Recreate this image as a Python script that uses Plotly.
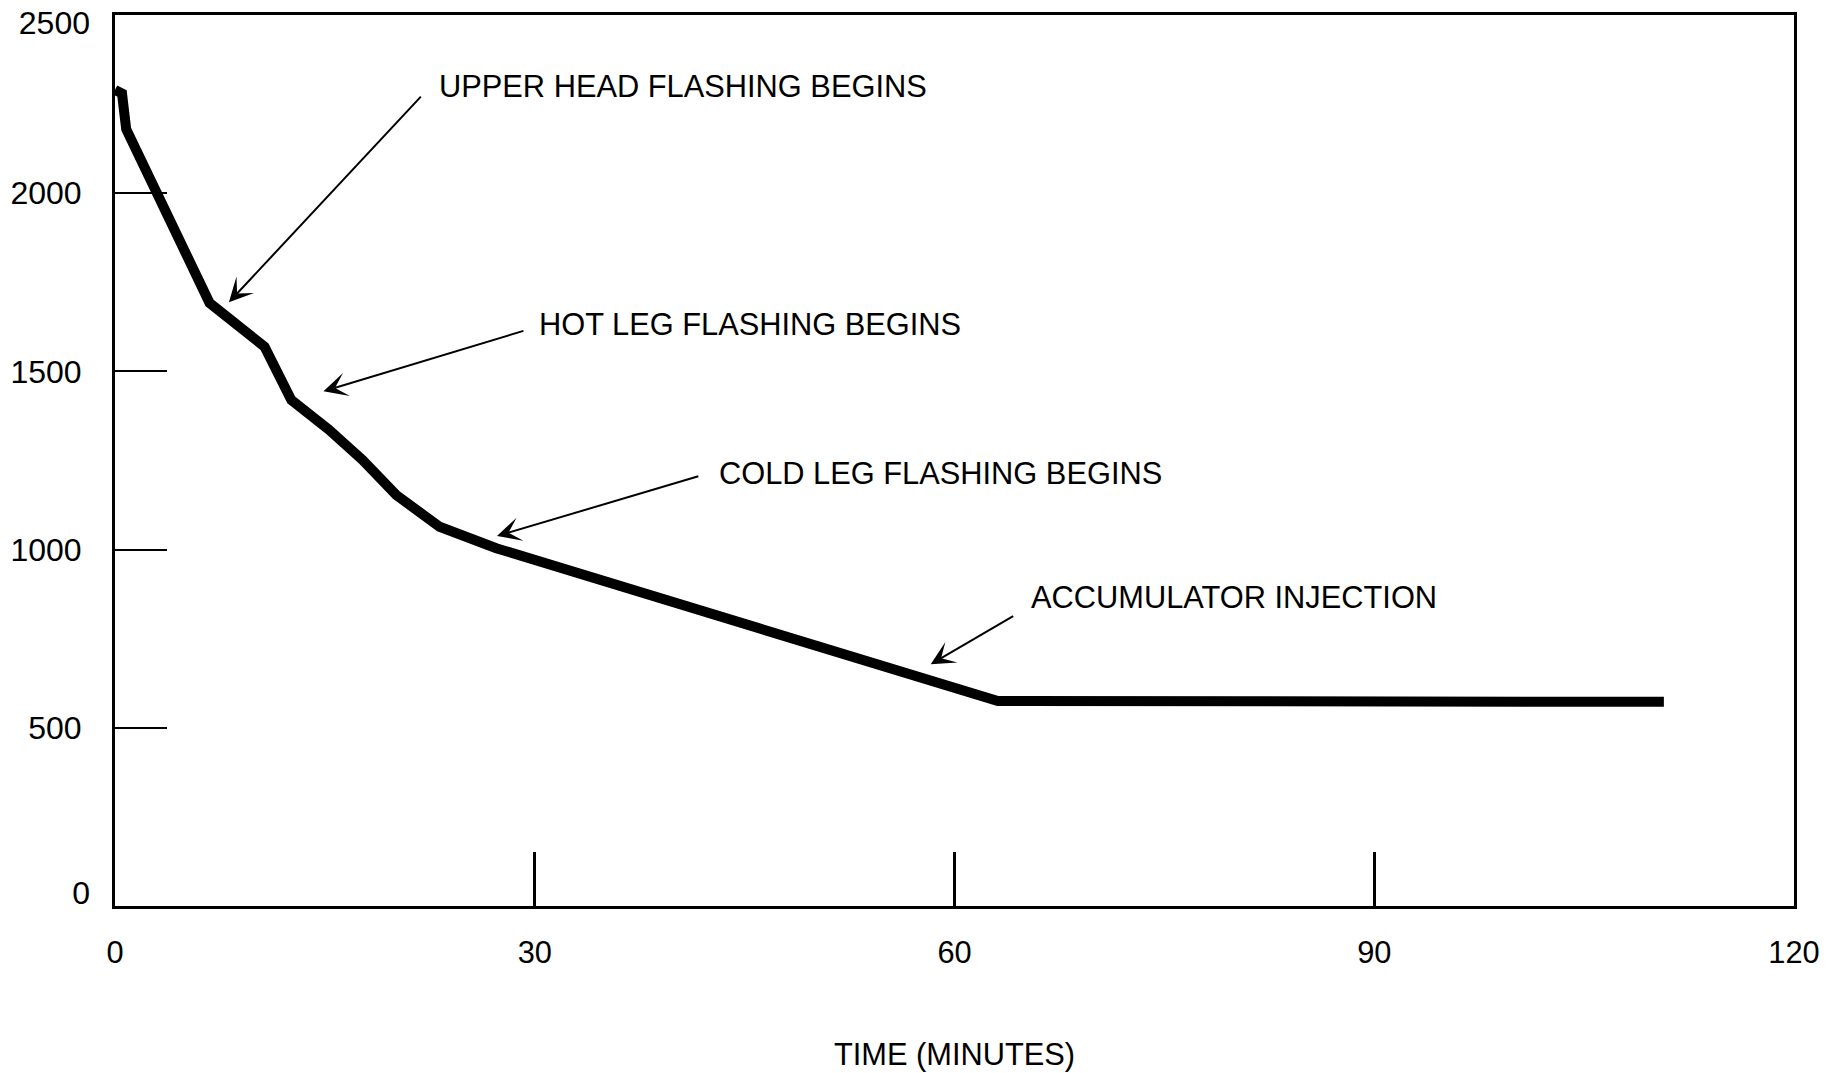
import plotly.graph_objects as go

# Data (time in minutes, pressure)
time_min = [0.0, 0.5, 0.8, 6.76, 10.69, 12.6, 15.3, 17.7, 20.1, 21.5, 23.2, 27.25, 63.1, 110.7]
pressure = [2290, 2280, 2180, 1692, 1569, 1420, 1336, 1251, 1153, 1111, 1064, 1004, 575, 573]

x_ticks = [0, 30, 60, 90, 120]
y_ticks_mid = [500, 1000, 1500, 2000]
y_tick_top = [2500]
y_tick_bottom = [0]

# Annotation labels: text position and arrow tail/tip in data units
labels = ["UPPER HEAD FLASHING BEGINS", "HOT LEG FLASHING BEGINS",
          "COLD LEG FLASHING BEGINS", "ACCUMULATOR INJECTION"]
label_x = [23.0, 30.15, 43.05, 65.3]
label_y = [2299, 1632, 1214, 866]
arrow_tail_x = [21.96, 29.3, 41.8, 64.3]
arrow_tail_y = [2275, 1615, 1207, 816]
arrow_tip_x = [8.14, 14.9, 27.3, 58.3]
arrow_tip_y = [1694, 1444, 1038, 678]

FONT = "Liberation Sans, Arial, Helvetica, sans-serif"
FS = 30.8

fig = go.Figure()
fig.add_trace(go.Scatter(
    x=time_min, y=pressure, mode="lines",
    line=dict(color="black", width=10),
    showlegend=False, hoverinfo="skip",
))

annotations = []
for t, tx, ty, ax_, ay_, px, py in zip(labels, label_x, label_y, arrow_tail_x, arrow_tail_y, arrow_tip_x, arrow_tip_y):
    annotations.append(dict(
        x=tx, y=ty, xref="x", yref="y", text=t, showarrow=False,
        xanchor="left", yanchor="middle",
        font=dict(family=FONT, size=FS, color="black"),
    ))
    annotations.append(dict(
        x=px, y=py, xref="x", yref="y", ax=ax_, ay=ay_, axref="x", ayref="y",
        text="", showarrow=True, arrowhead=3, arrowsize=2, arrowwidth=2,
        arrowcolor="black", standoff=0, startstandoff=0,
    ))

fig.update_layout(
    width=1837, height=1073,
    margin=dict(l=107, r=51, t=7, b=175, autoexpand=False),
    paper_bgcolor="white", plot_bgcolor="white",
    font=dict(family=FONT, size=FS, color="black"),
    annotations=annotations,
    showlegend=False,
)

fig.update_xaxes(
    range=[0, 120], tickvals=x_ticks, ticktext=[str(v) for v in x_ticks],
    ticks="inside", ticklen=54, tickwidth=3, tickcolor="black",
    showline=True, linecolor="black", linewidth=3, mirror=True,
    showgrid=False, zeroline=False,
    ticklabelstandoff=17, ticklabeloverflow="allow",
    tickfont=dict(family=FONT, size=FS),
    title=dict(text="TIME (MINUTES)", font=dict(family=FONT, size=FS), standoff=75),
)

common_y = dict(
    range=[0, 2500], showgrid=False, zeroline=False,
    ticklabeloverflow="allow", ticklabelstandoff=24,
    tickfont=dict(family=FONT, size=32, color="black"),
)
fig.update_layout(
    yaxis=dict(
        tickvals=y_ticks_mid, ticktext=[str(v) for v in y_ticks_mid],
        ticks="inside", ticklen=52, tickwidth=2, tickcolor="black",
        showline=True, linecolor="black", linewidth=3, mirror=True,
        **common_y,
    ),
    # end labels of the pressure scale sit slightly inside the frame in the original
    yaxis2=dict(
        overlaying="y", side="left", anchor="x",
        tickvals=y_tick_top, ticktext=[str(v) for v in y_tick_top],
        ticks="", showline=False, ticklabelshift=8,
        **common_y,
    ),
    yaxis3=dict(
        overlaying="y", side="left", anchor="x",
        tickvals=y_tick_bottom, ticktext=[str(v) for v in y_tick_bottom],
        ticks="", showline=False, ticklabelshift=-13,
        **common_y,
    ),
)
# invisible helpers so the overlay axes are drawn
fig.add_trace(go.Scatter(x=[None], y=[None], yaxis="y2", showlegend=False, hoverinfo="skip"))
fig.add_trace(go.Scatter(x=[None], y=[None], yaxis="y3", showlegend=False, hoverinfo="skip"))

fig.write_html("out.html")
